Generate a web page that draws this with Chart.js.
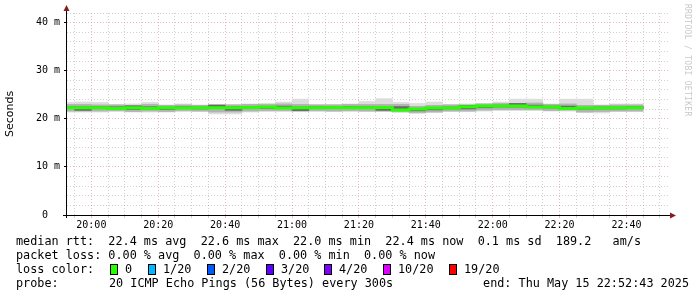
<!DOCTYPE html>
<html>
<head>
<meta charset="utf-8">
<script src="https://cdn.jsdelivr.net/npm/chart.js@4"></script>
<style>
  body { margin: 0; background: #fff; }
  #wrap { position: relative; width: 697px; height: 297px; overflow: hidden; }
  #wrap canvas { position: absolute; left: 0; top: 0; }
  .leg { position: absolute; left: 16px; font: 11.8px "DejaVu Sans Mono", monospace; color: #000; white-space: pre; line-height: 14px; }
  .box { position: absolute; width: 6px; height: 9px; border: 1px solid #000; }
  #mark { position: absolute; left: 683px; top: 4px; writing-mode: vertical-rl; font: 8px "DejaVu Sans Mono", monospace; color: #c8c8c8; white-space: pre; letter-spacing: 0.3px; }
</style>
</head>
<body>
<div id="wrap">
  <canvas id="smoke" width="697" height="297"></canvas>
</div>
<script>
// 5 minute steps, each value belongs to the interval ending at that time
const endTimes = ["19:55", "20:00", "20:05", "20:10", "20:15", "20:20", "20:25", "20:30", "20:35", "20:40",
  "20:45", "20:50", "20:55", "21:00", "21:05", "21:10", "21:15", "21:20", "21:25", "21:30",
  "21:35", "21:40", "21:45", "21:50", "21:55", "22:00", "22:05", "22:10", "22:15", "22:20",
  "22:25", "22:30", "22:35", "22:40", "22:45"];

// median rtt in ms
const median = [22.3, 22.3, 22.3, 22.3, 22.15, 22.3, 22.15, 22.3, 22.25, 22.3,
  22.3, 22.3, 22.35, 22.45, 22.25, 22.3, 22.3, 22.35, 22.3, 22.3,
  22.35, 21.85, 22.05, 22.25, 22.25, 22.5, 22.65, 22.65, 22.65, 22.45,
  22.45, 22.15, 22.25, 22.25, 22.3];

// smoke: outer range (min..max ping), inner range and the dense core
const smokeLo = [21.4, 21.4, 21.4, 21.5, 21.4, 21.4, 21.4, 21.5, 21.5, 21.0,
  21.0, 21.4, 21.5, 21.5, 21.5, 21.5, 21.5, 21.5, 21.5, 21.5,
  21.3, 21.1, 21.3, 21.5, 21.5, 21.6, 21.7, 21.7, 21.7, 21.6,
  21.6, 21.3, 21.2, 21.5, 21.5];
const smokeHi = [23.4, 23.5, 23.4, 23.0, 23.1, 23.4, 22.9, 23.1, 22.9, 23.0,
  23.0, 23.1, 23.2, 23.5, 24.1, 23.0, 23.0, 23.1, 23.6, 24.2,
  23.4, 23.2, 23.5, 23.0, 23.1, 23.2, 23.5, 24.1, 24.1, 23.1,
  24.1, 24.1, 22.9, 23.1, 23.1];
const innerLo = [21.6, 21.6, 21.6, 21.7, 21.5, 21.6, 21.5, 21.7, 21.6, 21.4,
  21.4, 21.6, 21.7, 21.7, 21.6, 21.7, 21.6, 21.7, 21.6, 21.6,
  21.5, 21.3, 21.4, 21.6, 21.6, 21.8, 21.9, 21.9, 21.9, 21.7,
  21.8, 21.4, 21.5, 21.6, 21.6];
const innerHi = [23.0, 23.0, 22.9, 22.9, 22.8, 23.0, 22.8, 22.9, 22.8, 22.9,
  22.9, 23.0, 23.0, 23.1, 23.0, 22.9, 22.9, 23.0, 23.0, 23.0,
  23.0, 22.6, 22.8, 22.9, 22.9, 23.1, 23.2, 23.2, 23.3, 23.0,
  23.1, 22.8, 22.8, 22.9, 22.9];
const coreLo = [22.1, 21.75, 22.1, 22.1, 21.95, 22.1, 21.95, 22.1, 22.05, 22.1,
  21.75, 22.1, 22.15, 22.25, 21.7, 22.1, 22.1, 22.15, 22.1, 21.75,
  21.8, 21.65, 21.85, 22.05, 22.05, 22.3, 22.45, 22.45, 22.45, 22.25,
  22.25, 22.0, 22.05, 22.05, 22.1];
const coreHi = [22.5, 22.5, 22.5, 22.5, 22.7, 22.5, 22.35, 22.5, 22.45, 22.85,
  22.5, 22.5, 22.55, 22.65, 22.45, 22.5, 22.5, 22.55, 22.5, 22.5,
  22.55, 22.05, 22.25, 22.45, 22.8, 22.7, 22.85, 23.2, 22.85, 22.65,
  22.65, 22.35, 22.45, 22.45, 22.5];

const xTickLabels = ["20:00", "20:20", "20:40", "21:00", "21:20", "21:40", "22:00", "22:20", "22:40"];
const yTickLabels = [0, 10, 20, 30, 40];
const windowStart = "19:52:43";
const windowEnd = "22:52:43";

const rttNames = ["avg", "max", "min", "now"];
const rttValues = [22.4, 22.6, 22.0, 22.4];
const rttSd = 0.1;
const rttAmS = 189.2;
const lossValues = [0, 0, 0, 0];
const lossLabels = ["0", "1/20", "2/20", "3/20", "4/20", "10/20", "19/20"];
const lossColors = ["#26ff00", "#00b8ff", "#0059ff", "#5e00ff", "#7e00ff", "#dd00ff", "#ff0000"];
const probeText = "20 ICMP Echo Pings (56 Bytes) every 300s";
const endText = "end: Thu May 15 22:52:43 2025";

// minutes since 19:00
function toMin(s) {
  const p = s.split(":").map(Number);
  return (p[0] - 19) * 60 + p[1] + (p[2] || 0) / 60;
}
function fmtMin(v) {
  const h = 19 + Math.floor(v / 60), m = Math.round(v % 60);
  return h + ":" + String(m).padStart(2, "0");
}

const step = toMin(endTimes[1]) - toMin(endTimes[0]);
const xMin = toMin(windowStart), xMax = toMin(windowEnd);
const majorX = xTickLabels.map(toMin);
const gridColor = "rgba(150,150,150,0.45)";
const mgridColor = "rgba(200,90,90,0.42)";

const bandData = (lo, hi) => endTimes.map((t, i) => ({ x: toMin(t) - step / 2, y: [lo[i], hi[i]] }));
const medData = endTimes.map((t, i) => ({ x: toMin(t) - step, y: median[i] }));
medData.push({ x: toMin(endTimes[endTimes.length - 1]), y: median[median.length - 1] });

const bandSet = (lo, hi, color, order) => ({
  type: "bar",
  data: bandData(lo, hi),
  backgroundColor: color,
  borderWidth: 0,
  barPercentage: 1,
  categoryPercentage: 1,
  grouped: false,
  order: order
});

const axesPlugin = {
  id: "rrdAxes",
  afterDraw(chart) {
    const { ctx, chartArea: a } = chart;
    ctx.save();
    ctx.strokeStyle = "#000";
    ctx.lineWidth = 1;
    ctx.beginPath();
    ctx.moveTo(a.left - 4, a.bottom + 0.5);
    ctx.lineTo(a.right + 2, a.bottom + 0.5);
    ctx.moveTo(a.left - 0.5, a.bottom + 3);
    ctx.lineTo(a.left - 0.5, a.top - 4);
    ctx.stroke();
    ctx.fillStyle = "#8b1a1a";
    ctx.beginPath();
    ctx.moveTo(a.left - 0.5, a.top - 8);
    ctx.lineTo(a.left - 3.5, a.top - 2);
    ctx.lineTo(a.left + 2.5, a.top - 2);
    ctx.closePath();
    ctx.fill();
    ctx.beginPath();
    ctx.moveTo(a.right + 7, a.bottom + 0.5);
    ctx.lineTo(a.right + 1, a.bottom - 2.5);
    ctx.lineTo(a.right + 1, a.bottom + 3.5);
    ctx.closePath();
    ctx.fill();
    ctx.restore();
  }
};

new Chart(document.getElementById("smoke"), {
  data: {
    datasets: [
      {
        type: "line",
        data: medData,
        stepped: "after",
        borderColor: "#26ff00",
        borderWidth: 3,
        pointRadius: 0,
        fill: false,
        clip: 0,
        order: 0
      },
      bandSet(coreLo, coreHi, "#6a6a6a", 1),
      bandSet(innerLo, innerHi, "#b3b3b3", 2),
      bandSet(smokeLo, smokeHi, "#dddddd", 3)
    ]
  },
  options: {
    responsive: false,
    animation: false,
    events: [],
    layout: { padding: { left: 0, right: 28, top: 13, bottom: 62 } },
    plugins: { legend: { display: false }, tooltip: { enabled: false } },
    scales: {
      x: {
        type: "linear",
        offset: false,
        min: xMin,
        max: xMax,
        afterBuildTicks: (s) => {
          const t = [];
          for (let v = Math.ceil(xMin / step) * step; v <= xMax; v += step) t.push({ value: v });
          s.ticks = t;
        },
        afterFit: (s) => { s.height = 20; },
        ticks: {
          autoSkip: false,
          maxRotation: 0,
          padding: 1,
          color: "#000",
          font: { family: "DejaVu Sans Mono", size: 10 },
          callback: (v) => (majorX.includes(v) ? fmtMin(v) : "")
        },
        grid: {
          offset: false,
          color: (c) => (c.tick && majorX.includes(c.tick.value) ? mgridColor : gridColor),
          tickColor: (c) => (c.tick && majorX.includes(c.tick.value) ? mgridColor : gridColor),
          tickLength: 3,
          lineWidth: 1
        },
        border: { display: false, dash: [1, 2] }
      },
      y: {
        type: "linear",
        min: 0,
        max: 42,
        afterBuildTicks: (s) => {
          const t = [];
          for (let v = 0; v <= 42; v += 2) t.push({ value: v });
          s.ticks = t;
        },
        afterFit: (s) => { s.width = 67; },
        ticks: {
          autoSkip: false,
          padding: 4,
          color: "#000",
          font: { family: "DejaVu Sans Mono", size: 10 },
          callback: (v) => (yTickLabels.includes(v) ? (v === 0 ? "0  " : v + " m") : "")
        },
        grid: {
          color: (c) => (c.tick && yTickLabels.includes(c.tick.value) ? mgridColor : gridColor),
          tickColor: (c) => (c.tick && yTickLabels.includes(c.tick.value) ? "#000" : "rgba(0,0,0,0)"),
          tickLength: 3,
          lineWidth: 1
        },
        border: { display: false, dash: [1, 2] },
        title: {
          display: true,
          text: "Seconds",
          color: "#000",
          font: { family: "DejaVu Sans", size: 11 },
          padding: { top: 4, bottom: 0 }
        }
      }
    }
  },
  plugins: [axesPlugin]
});

// legend under the graph
const wrap = document.getElementById("wrap");
function addText(txt, left, top) {
  const d = document.createElement("div");
  d.className = "leg";
  d.style.left = left + "px";
  d.style.top = top + "px";
  d.textContent = txt;
  wrap.appendChild(d);
  return d;
}
let rttLine = "median rtt: ";
rttValues.forEach((v, i) => { rttLine += " " + v.toFixed(1) + " ms " + rttNames[i] + " "; });
rttLine += " " + rttSd.toFixed(1) + " ms sd  " + rttAmS.toFixed(1) + "   am/s";
addText(rttLine, 16, 234);
let lossLine = "packet loss:";
lossValues.forEach((v, i) => { lossLine += (i ? "  " : " ") + v.toFixed(2) + " % " + rttNames[i]; });
addText(lossLine, 16, 248);
addText("loss color:", 16, 262);
const boxLeft = [110, 148, 207, 266, 324, 383, 449];
lossLabels.forEach((lab, i) => {
  const b = document.createElement("div");
  b.className = "box";
  b.style.left = boxLeft[i] + "px";
  b.style.top = "264px";
  b.style.background = lossColors[i];
  wrap.appendChild(b);
  addText(lab, boxLeft[i] + 15, 262);
});
addText("probe:", 16, 276);
addText(probeText, 109, 276);
const endDiv = addText(endText, 0, 276);
endDiv.style.left = "auto";
endDiv.style.right = "8px";

const mark = document.createElement("div");
mark.id = "mark";
mark.textContent = "RRDTOOL / TOBI OETIKER";
wrap.appendChild(mark);
</script>
</body>
</html>
